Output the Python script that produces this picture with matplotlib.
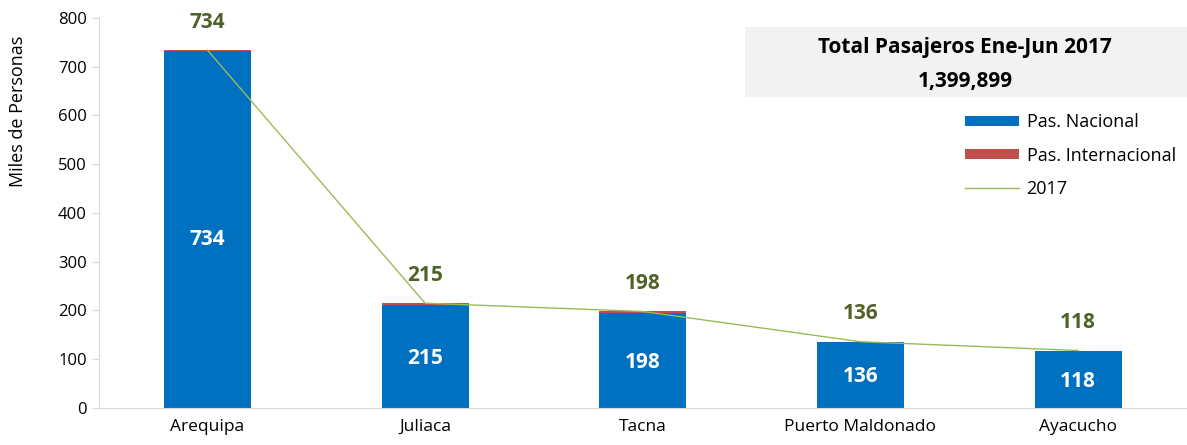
import matplotlib.pyplot as plt
from matplotlib.patches import Rectangle

plt.rcParams['font.family'] = ['Open Sans', 'DejaVu Sans']

aeropuertos = ['Arequipa', 'Juliaca', 'Tacna', 'Puerto Maldonado', 'Ayacucho']
nacional = [731, 212, 195, 135.5, 117.7]
internacional = [3, 3, 3, 0.5, 0.3]
etiquetas = ['734', '215', '198', '136', '118']
total_texto = '1,399,899'

azul = '#0070C0'
rojo = '#C0504D'
verde = '#9BBB59'
verde_osc = '#4F6228'

total = [n + i for n, i in zip(nacional, internacional)]
x = list(range(len(aeropuertos)))

fig = plt.figure(figsize=(11.87, 4.45), dpi=100)
ax = fig.add_axes([0.083, 0.083, 0.917, 0.877])

b1 = ax.bar(x, nacional, width=0.4, color=azul, label='Pas. Nacional')
b2 = ax.bar(x, internacional, width=0.4, bottom=nacional, color=rojo, label='Pas. Internacional')
l1, = ax.plot(x, total, color=verde, lw=1, label='2017')

for xi, t, lab in zip(x, total, etiquetas):
    ax.text(xi, t + 57, lab, ha='center', va='center', fontsize=15,
            fontweight='bold', color=verde_osc)
    ax.text(xi, t * 0.47, lab, ha='center', va='center', fontsize=15,
            fontweight='bold', color='white')

ax.set_xlim(-0.5, 4.5)
ax.set_ylim(0, 800)
ax.set_yticks(range(0, 801, 100))
ax.set_xticks(x)
ax.set_xticklabels(aeropuertos, fontsize=12.5)
ax.tick_params(axis='y', labelsize=12, colors='#D9D9D9', labelcolor='black', length=5)
ax.tick_params(axis='x', length=0, pad=8)
ax.set_ylabel('Miles de Personas', fontsize=13)
ax.yaxis.set_label_coords(-0.066, 0.76)

for s in ['top', 'right']:
    ax.spines[s].set_visible(False)
for s in ['left', 'bottom']:
    ax.spines[s].set_color('#D9D9D9')

# recuadro con el total
fig.patches.append(Rectangle((745 / 1187, 1 - 97 / 445), 442 / 1187, 70 / 445,
                             transform=fig.transFigure, facecolor='#F2F2F2',
                             edgecolor='none', zorder=0))
fig.text(965 / 1187, 1 - 47 / 445, 'Total Pasajeros Ene-Jun 2017', ha='center',
         va='center', fontsize=15, fontweight='bold')
fig.text(965 / 1187, 1 - 81 / 445, total_texto, ha='center', va='center',
         fontsize=15, fontweight='bold')

ax.legend([b1, b2, l1], ['Pas. Nacional', 'Pas. Internacional', '2017'],
          loc='upper left', bbox_to_anchor=(958 / 1187, 1 - 106 / 445),
          bbox_transform=fig.transFigure, frameon=False, fontsize=13,
          handlelength=3.0, handleheight=0.5, labelspacing=0.85, handletextpad=0.4,
          borderaxespad=0)

fig.savefig('out.png', dpi=100)
